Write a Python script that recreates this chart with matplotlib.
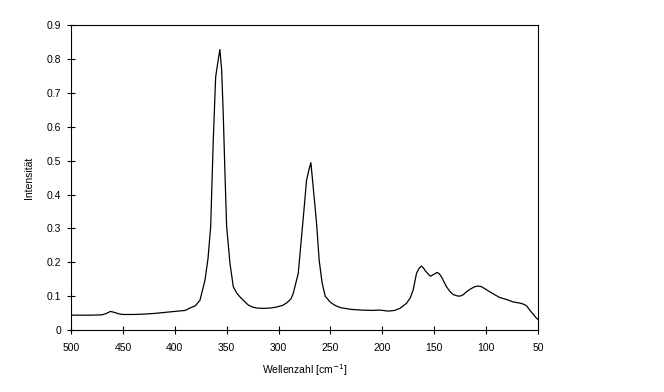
import numpy as np
import matplotlib
matplotlib.use('Agg')
import matplotlib.pyplot as plt

# Spectrum (wavenumber in cm^-1, intensity)
wellenzahl = [500, 490, 480, 470, 466, 462, 458, 454, 450, 440, 430, 420, 410, 400,
              390, 385.4, 380, 375.7, 370.9, 368, 365.4, 362.9, 360.6, 358, 356.5,
              354.8, 353.3, 351.5, 350, 346.8, 343.6, 340, 337.2, 333, 329.2, 325,
              321.1, 315, 308, 301.8, 296, 292.2, 288, 285.8, 281, 277.8, 275, 273,
              270.5, 268.8, 266.6, 263.3, 260.8, 258, 255, 250, 245, 240, 230, 220,
              210, 202.3, 194.3, 188, 183, 176.6, 173, 170.2, 167, 164.5, 162.2, 160,
              159, 156, 153.5, 150, 147.1, 145, 142.9, 138.1, 135, 131.7, 128, 125.3,
              122, 118.8, 115, 110.8, 107.5, 104.4, 101, 98, 92, 86.7, 80, 73.9, 68,
              64.3, 61, 57.8, 54, 51.4, 50]
intensitaet = [0.044, 0.044, 0.044, 0.045, 0.049, 0.055, 0.052, 0.048, 0.046, 0.046,
               0.047, 0.049, 0.052, 0.055, 0.058, 0.065, 0.072, 0.088, 0.147, 0.21,
               0.305, 0.56, 0.747, 0.80, 0.828, 0.767, 0.64, 0.45, 0.305, 0.197, 0.128,
               0.108, 0.098, 0.085, 0.074, 0.068, 0.065, 0.064, 0.065, 0.068, 0.073,
               0.080, 0.092, 0.108, 0.167, 0.275, 0.37, 0.442, 0.475, 0.494, 0.423,
               0.315, 0.206, 0.14, 0.10, 0.082, 0.072, 0.066, 0.061, 0.059, 0.058,
               0.059, 0.056, 0.058, 0.064, 0.079, 0.095, 0.118, 0.167, 0.182, 0.189,
               0.182, 0.177, 0.166, 0.159, 0.165, 0.170, 0.166, 0.157, 0.128, 0.115,
               0.105, 0.101, 0.100, 0.104, 0.113, 0.121, 0.128, 0.130, 0.128, 0.122,
               0.116, 0.105, 0.096, 0.090, 0.083, 0.080, 0.077, 0.072, 0.059, 0.045,
               0.035, 0.032]

x_ticks = [500, 450, 400, 350, 300, 250, 200, 150, 100, 50]
y_ticks = [0, 0.1, 0.2, 0.3, 0.4, 0.5, 0.6, 0.7, 0.8, 0.9]

plt.rcParams['font.family'] = ['Liberation Sans', 'DejaVu Sans']

fig = plt.figure(figsize=(6.64, 3.92), dpi=100)
ax = fig.add_axes([0.107, 0.158, 0.703, 0.778])

ax.plot(wellenzahl, intensitaet, color='black', linewidth=0.9)

ax.set_xlim(500, 50)
ax.set_ylim(0, 0.9)
ax.set_xticks(x_ticks)
ax.set_xticklabels([str(t) for t in x_ticks])
ax.set_yticks(y_ticks)
ax.set_yticklabels(['0'] + ['%.1f' % t for t in y_ticks[1:]])

ax.tick_params(direction='inout', length=6, width=0.8, labelsize=7.5)
ax.tick_params(axis='x', pad=6)
ax.tick_params(axis='y', pad=4)
for s in ax.spines.values():
    s.set_linewidth(0.8)

ax.set_xlabel('Wellenzahl [cm$^{-1}$]', fontsize=7.5, labelpad=7)
ax.set_ylabel('Intensität', fontsize=7.5, labelpad=9)

fig.savefig('out.png', dpi=100)
